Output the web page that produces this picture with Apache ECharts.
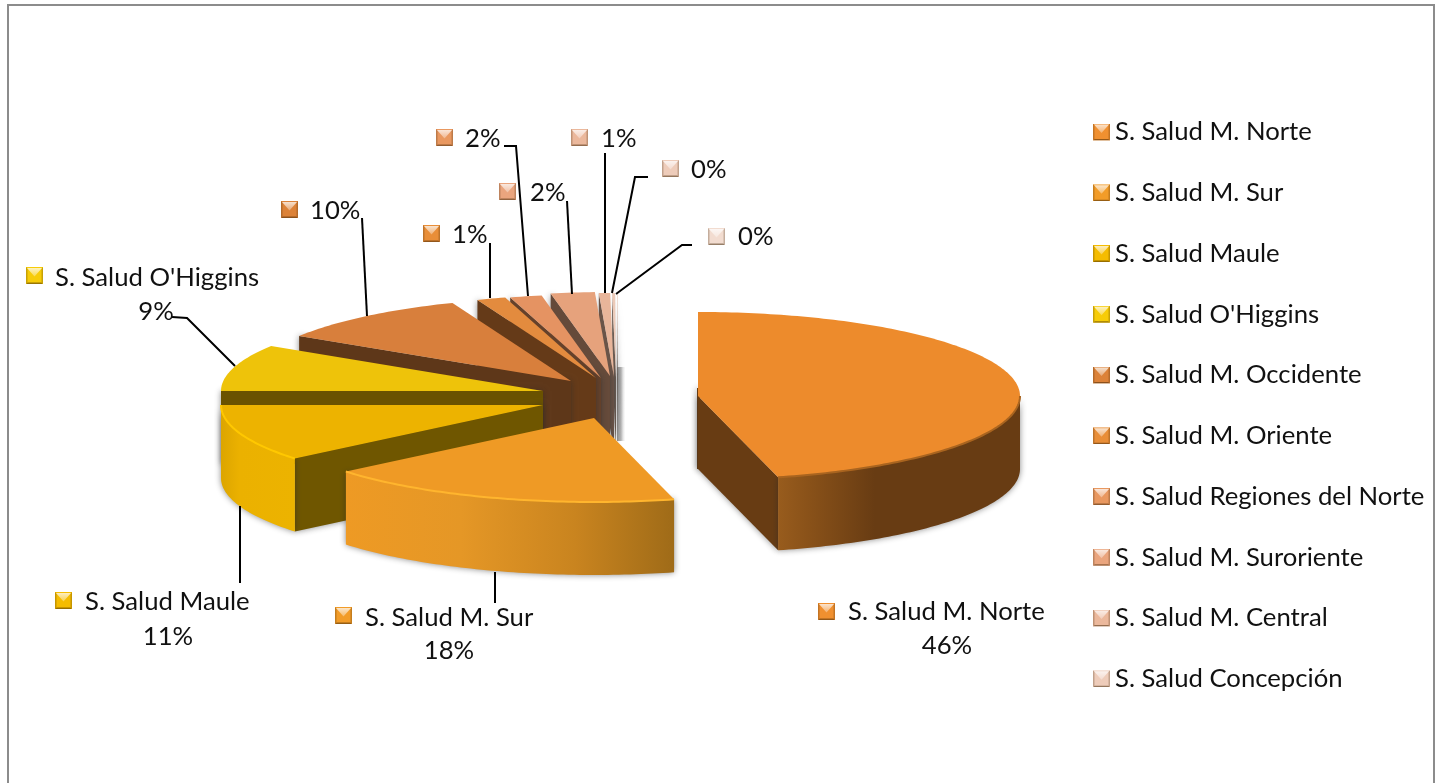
<!DOCTYPE html>
<html><head><meta charset="utf-8">
<style>html,body{margin:0;padding:0;background:#fff}#c{width:1439px;height:783px}</style>
<script src="https://cdn.jsdelivr.net/npm/echarts@6/dist/echarts.min.js"></script>
</head><body><div id="c"></div>
<script>
// ---- data ----
const names = ['S. Salud M. Norte','S. Salud M. Sur','S. Salud Maule',"S. Salud O'Higgins",'S. Salud M. Occidente','S. Salud M. Oriente','S. Salud Regiones del Norte','S. Salud M. Suroriente','S. Salud M. Central','S. Salud Concepción','Otros'];
const shares = [46,18,11,9,10,1.45,1.6,2.2,0.56,0.15,0.04];
const legendNames = names.slice(0,10);
// ---- layout & style ----
const FONT = 'Lato, Carlito, "Open Sans", sans-serif';
const FS = 25.7;
const RX = 322, RY = 84, DEPTH = 73;
const centers = [[698,396],[594,418],[543,405],[543,391],[571,381],[596,378],[601,378],[610,376],[614,377],[616,377],[618,377]];
const topColors = ['#ed8b2c','#ef9a25','#edb300','#eec30a','#d87f3c','#e38b3e','#e59362','#e6a27c','#e8b59a','#eccab8','#f0d8cc'];
const markColors = ['#f09030','#f29c28','#f5bc00','#f7cc08','#dc8238','#e98e38','#e99860','#eaa57e','#ebb89c','#eeccba','#f2dcd0'];
const cutColors = ['#683c13','#6f4a10','#6f5600','#6a5200','#5e3719','#653a18','#65412a','#654a3a','#6a5448','#6e5e54','#70665f'];
const wallStops = [
  [[0,'#985c1d'],[0.12,'#8a5219'],[0.4,'#683c13'],[1,'#683c13']],
  [[0,'#ee9a24'],[0.35,'#e59726'],[0.7,'#c9841f'],[1,'#9f6b18']],
  [[0,'#dca500'],[0.25,'#ebb100'],[1,'#ecb300']],
  null,null,null,null,null,null,null,null];
const edgeColors = ['#a9641f','#ffb52e','#ffc800',null,null,null,null,null,null,null,null];
const seriesZ = [12,11,10,9,8,7,6,5,4,3,2];
const labels = [
  {mx:818,my:603,tx:848,ty:612,name:true,px:947,py:646,line:null},
  {mx:335,my:607,tx:365,ty:618,name:true,px:449,py:651,line:[[495,572],[495,603]]},
  {mx:55,my:592,tx:85,ty:602,name:true,px:168,py:637,line:[[240,506],[240,583]]},
  {mx:26,my:267,tx:55,ty:278,name:true,px:156,py:312,line:[[172,317],[187,318],[235,366]]},
  {mx:281,my:201,tx:310,ty:211,line:[[362,218],[367,316]]},
  {mx:423,my:225,tx:452,ty:235,line:[[490,243],[490,298]]},
  {mx:436,my:129,tx:465,ty:139,line:[[504,146],[516,146],[528,296]]},
  {mx:499,my:183,tx:530,ty:193,line:[[567,201],[572,294]]},
  {mx:571,my:129,tx:601,ty:139,line:[[605,153],[605,293]]},
  {mx:662,my:160,tx:691,ty:170,line:[[648,177],[635,177],[612,293]]},
  {mx:708,my:228,tx:738,ty:237,line:[[692,245],[682,245],[616,294]]}
];
// ---- helpers ----
function mix(hex,other,k){
  const p=h=>[1,3,5].map(i=>parseInt(h.substr(i,2),16));
  const a=p(hex),b=p(other);
  return 'rgb('+a.map((v,i)=>Math.round(v+(b[i]-v)*k)).join(',')+')';
}
const total = shares.reduce((a,b)=>a+b,0);
const rad = d=>d*Math.PI/180;
function pt(c,deg,dy){return [c[0]+RX*Math.sin(rad(deg)), c[1]-RY*Math.cos(rad(deg))+(dy||0)];}
function arc(c,a,b,dy){const out=[];const n=Math.max(2,Math.ceil(Math.abs(b-a)));for(let i=0;i<=n;i++)out.push(pt(c,a+(b-a)*i/n,dy));return out;}
function marker(x,y,color){
  const s=17;
  return [
    {type:'rect',shape:{x:x,y:y,width:s,height:s},style:{fill:color}},
    {type:'polygon',shape:{points:[[x,y+s],[x+s,y+s],[x+s-1.5,y+s-1.5],[x+1.5,y+s-1.5]]},style:{fill:mix(color,'#3a2000',0.5)}},
    {type:'polygon',shape:{points:[[x,y],[x,y+s],[x+1.5,y+s-1.5],[x+1.5,y+1.5]]},style:{fill:mix(color,'#3a2000',0.25)}},
    {type:'polygon',shape:{points:[[x+s,y],[x+s,y+s],[x+s-1.5,y+s-1.5],[x+s-1.5,y+1.5]]},style:{fill:mix(color,'#3a2000',0.25)}},
    {type:'polygon',shape:{points:[[x+1,y+1],[x+s-1,y+1],[x+s/2,y+s/2+1]]},style:{fill:{type:'linear',x:0,y:0,x2:0,y2:1,colorStops:[{offset:0,color:mix(color,'#ffffff',0.75)},{offset:1,color:mix(color,'#ffffff',0.3)}]}}}
  ];
}
function legendIcon(color){
  const e1=mix(color,'#3a2000',0.5), e2=mix(color,'#3a2000',0.25);
  const svg="<svg xmlns='http://www.w3.org/2000/svg' width='17' height='17'><defs><linearGradient id='a' x1='0' y1='0' x2='0' y2='1'><stop offset='0' stop-color='"+mix(color,'#ffffff',0.75)+"'/><stop offset='1' stop-color='"+mix(color,'#ffffff',0.3)+"'/></linearGradient></defs><rect width='17' height='17' fill='"+color+"'/><polygon points='0,17 17,17 15.5,15.5 1.5,15.5' fill='"+e1+"'/><polygon points='0,0 0,17 1.5,15.5 1.5,1.5' fill='"+e2+"'/><polygon points='17,0 17,17 15.5,15.5 15.5,1.5' fill='"+e2+"'/><polygon points='1,1 16,1 8.5,9.5' fill='url(#a)'/></svg>";
  return 'image://data:image/svg+xml;charset=utf-8,'+encodeURIComponent(svg);
}
function renderSlice(i){
  return function(params,api){
    const v=api.value(0);
    let start=0; for(let k=0;k<i;k++) start+=shares[k]/total*360;
    const a=start, b=start+v/total*360, c=centers[i];
    const kids=[];
    const shadow={shadowBlur:6,shadowColor:'rgba(40,40,40,0.55)'};
    const cutPoly=(deg)=>{const p=pt(c,deg);return [c,p,[p[0],p[1]+DEPTH],[c[0],c[1]+DEPTH]];};
    if(i===shares.length-1){
      // soft grey shadow behind the thin rear slices
      kids.push({type:'rect',shape:{x:c[0]-1,y:c[1]-10,width:8,height:DEPTH+1},style:{fill:{type:'linear',x:0,y:0,x2:1,y2:0,colorStops:[{offset:0,color:'#9a9a9a'},{offset:0.5,color:'#b5b5b5'},{offset:1,color:'rgba(235,235,235,0.2)'}]}}});
    }
    if(i===0){
      // hidden start edge still throws a soft shadow to the left
      kids.push({type:'rect',shape:{x:c[0]-1,y:c[1]-8,width:3,height:DEPTH+8},style:Object.assign({fill:cutColors[i]},shadow)});
    }
    const wa=Math.max(a,90), wb=Math.min(b,270);
    if(Math.sin(rad(a))<0 && a<360){
      kids.push({type:'polygon',shape:{points:cutPoly(a)},style:Object.assign({fill:cutColors[i]},shadow)});
    }
    if(Math.sin(rad(b))>0){
      kids.push({type:'polygon',shape:{points:cutPoly(b)},style:Object.assign({fill:cutColors[i]},shadow)});
    }
    if(wb>wa){
      const top=arc(c,wa,wb), bot=arc(c,wa,wb,DEPTH).reverse();
      const st=wallStops[i]||[[0,cutColors[i]],[1,cutColors[i]]];
      kids.push({type:'polygon',shape:{points:top.concat(bot)},style:Object.assign({fill:{type:'linear',x:0,y:0,x2:1,y2:0,colorStops:st.map(s=>({offset:s[0],color:s[1]}))}},shadow)});
    }
    kids.push({type:'polygon',shape:{points:[c].concat(arc(c,a,b))},style:{fill:topColors[i]}});
    if(edgeColors[i] && wb>wa){
      kids.push({type:'polyline',shape:{points:arc(c,wa,wb)},style:{fill:'none',stroke:edgeColors[i],lineWidth:2}});
    }
    const L=labels[i];
    if(L.line) kids.push({type:'polyline',shape:{points:L.line},style:{fill:'none',stroke:'#000',lineWidth:2}});
    marker(L.mx,L.my,markColors[i]).forEach(m=>kids.push(m));
    const pct=Math.round(v/total*100)+'%';
    const ts={fontFamily:FONT,fontSize:FS,fill:'#111'};
    if(L.name){
      kids.push({type:'text',style:Object.assign({text:names[i],x:L.tx,y:L.ty,align:'left',verticalAlign:'middle'},ts)});
      kids.push({type:'text',style:Object.assign({text:pct,x:L.px,y:L.py,align:'center',verticalAlign:'middle'},ts)});
    }else{
      kids.push({type:'text',style:Object.assign({text:pct,x:L.tx,y:L.ty,align:'left',verticalAlign:'middle'},ts)});
    }
    return {type:'group',children:kids};
  };
}
const chart=echarts.init(document.getElementById('c'),null,{renderer:'canvas'});
chart.setOption({
  animation:false,
  backgroundColor:'#fff',
  graphic:[{type:'rect',z:0,shape:{x:8,y:5,width:1426,height:800},style:{fill:'none',stroke:'#8c8c8c',lineWidth:2}}],
  legend:{
    orient:'vertical',left:1093,top:117,padding:0,
    itemWidth:17,itemHeight:17,itemGap:30.75,selectedMode:false,
    textStyle:{fontFamily:FONT,fontSize:FS,color:'#111',lineHeight:30},
    data:legendNames.map((n,i)=>({name:n,icon:legendIcon(markColors[i])}))
  },
  series:names.map((n,i)=>({
    type:'custom',name:n,coordinateSystem:'none',z:seriesZ[i],silent:true,
    renderItem:renderSlice(i),
    data:[[shares[i]]]
  }))
});
</script></body></html>
